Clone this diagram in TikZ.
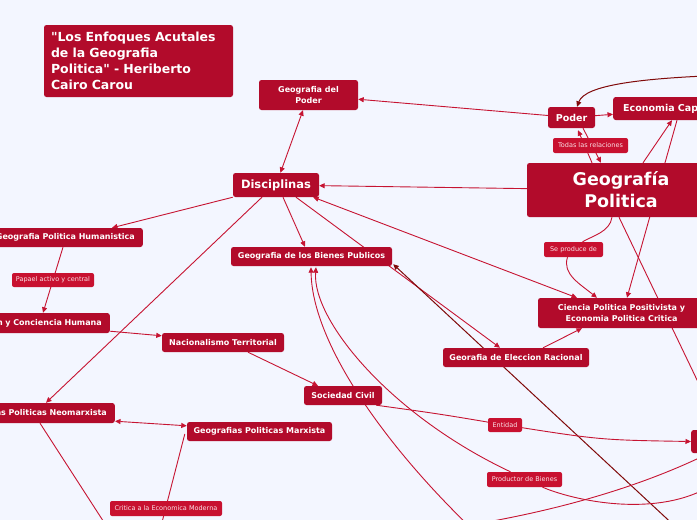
\documentclass[tikz,border=0pt]{standalone}
\usepackage{fontspec}
\setmainfont{DejaVu Sans}[Ligatures=TeXOff]
\usetikzlibrary{arrows.meta,calc}
\definecolor{bgc}{RGB}{243,246,255}
\definecolor{nodered}{RGB}{178,11,43}
\definecolor{labred}{RGB}{200,17,48}
\definecolor{linered}{RGB}{198,20,50}
\definecolor{darkline}{RGB}{128,10,10}
\definecolor{labtext}{RGB}{250,225,230}
\pgfdeclarelayer{back}
\pgfdeclarelayer{bg}
\pgfsetlayers{back,bg,main}
\begin{document}
\begin{tikzpicture}[x=1pt,y=-1pt,
 box/.style={fill=nodered, rounded corners=2.5pt, text=white, inner sep=0pt, align=center, font=\bfseries\fontsize{8}{10.5}\selectfont},
 lab/.style={fill=labred, rounded corners=2pt, text=labtext, inner sep=0pt, font=\fontsize{6.5}{7.5}\selectfont},
 link/.style={draw=linered, line width=0.9pt},
 arr/.style={link, -{Triangle[length=5.5pt,width=5pt]}},
 darr/.style={link, {Triangle[length=5.5pt,width=5pt]}-{Triangle[length=5.5pt,width=5pt]}},
 darkarr/.style={draw=darkline, line width=1pt, -{Triangle[length=5.5pt,width=5pt]}},
]
\begin{pgfonlayer}{back}
\fill[bgc] (0,0) rectangle (697,520);
\end{pgfonlayer}
\useasboundingbox (0,0) rectangle (697,520);

% nodes
\node[box, minimum width=189pt, minimum height=72pt, text width=175pt, align=left, font=\bfseries\fontsize{12.5}{16}\selectfont] (title) at (138.5,61) {"Los Enfoques Acutales\\de la Geografia\\Politica" - Heriberto\\Cairo Carou};
\node[box, minimum width=99pt, minimum height=30pt, font=\bfseries\fontsize{8}{11}\selectfont] (gpoder) at (308.5,95) {Geografia del\\Poder};
\node[box, minimum width=86pt, minimum height=24pt, font=\bfseries\fontsize{11.5}{14}\selectfont] (disc) at (276,185) {Disciplinas};
\node[box, minimum width=47pt, minimum height=21pt, font=\bfseries\fontsize{9.5}{12}\selectfont] (poder) at (571.5,117.5) {Poder};
\node[box, anchor=west, minimum height=23pt, text width=130pt, align=left, inner xsep=10pt, font=\bfseries\fontsize{9.5}{12}\selectfont] (econ) at (613,108.5) {Economia Cap};
\node[box, minimum width=188pt, minimum height=54pt, font=\bfseries\fontsize{17.5}{22}\selectfont] (geo) at (621,190) {Geografía\\Politica};
\node[lab, minimum width=75pt, minimum height=15pt] (todas) at (590.5,145.5) {Todas las relaciones};
\node[box, anchor=east, minimum height=19pt, text width=160pt, align=right, inner xsep=8pt] (human) at (143,237.5) {Geografia Politica Humanistica};
\node[lab, minimum width=82pt, minimum height=14pt] (papael) at (53,280) {Papael activo y central};
\node[box, anchor=east, minimum height=20pt, text width=130pt, align=right, inner xsep=8pt] (conc) at (110,323) {n y Conciencia Humana};
\node[box, minimum width=122pt, minimum height=19pt] (nac) at (223,342.5) {Nacionalismo Territorial};
\node[box, minimum width=161pt, minimum height=19pt] (bienes) at (311.5,256.5) {Geografia de los Bienes Publicos};
\node[box, minimum width=167pt, minimum height=30pt] (ciencia) at (621.5,313) {Ciencia Politica Positivista y\\Economia Politica Critica};
\node[box, minimum width=146pt, minimum height=19pt] (elec) at (516,357.5) {Georafia de Eleccion Racional};
\node[box, minimum width=78pt, minimum height=19pt] (soc) at (343,395.5) {Sociedad Civil};
\node[box, anchor=east, minimum height=20pt, text width=130pt, align=right, inner xsep=8pt] (neo) at (115,413) {as Politicas Neomarxista};
\node[box, minimum width=145pt, minimum height=19pt] (marx) at (259.5,431.5) {Geografias Politicas Marxista};
\node[lab, minimum width=112pt, minimum height=15pt] (critica) at (166,508.5) {Critica a la Economica Moderna};
\node[lab, minimum width=34pt, minimum height=14pt] (entidad) at (505,425) {Entidad};
\node[lab, minimum width=75pt, minimum height=15pt] (productor) at (524.5,479.5) {Productor de Bienes};
\node[lab, minimum width=59pt, minimum height=15pt] (seprod) at (573.5,249.5) {Se produce de};
\node[box, anchor=west, minimum width=45pt, minimum height=23pt] (rnode) at (691,441.5) {};

% connectors
\begin{pgfonlayer}{bg}
\draw[arr] (poder) -- (gpoder);
\draw[darr] (disc) -- (gpoder);
\draw[arr] (geo) -- (disc);
\draw[arr] (poder) -- (econ);
\coordinate (c1) at (730,75);
\draw[darkarr] (c1) .. controls (640,78) and (585,85) .. ($(poder.north)+(5.5,0)$);
\draw[arr] ($(geo.north)+(-29,0)$) -- ($(poder.south)+(6.5,2)$);
\draw[arr] ($(poder.south)+(11.5,0)$) -- ($(geo.north)+(-20,0)$);
\draw[arr] ($(geo.north)+(22,0)$) -- ($(econ.south west)+(59,0)$);
\draw[arr] ($(econ.south west)+(64,0)$) -- ($(ciencia.north)+(5.5,0)$);
\coordinate (c2) at (722,432);
\draw[link] ($(geo.south)+(-2,0)$) -- (c2);
\draw[link] ($(geo.south)+(-9,0)$) .. controls (610,232) and (592,236) .. ($(seprod.north)+(9,0)$);
\draw[arr] ($(seprod.south)+(-6,0)$) .. controls (562,274) and (580,284) .. ($(ciencia.north)+(-24.5,0)$);
\draw[darr] ($(disc.south east)+(-6,0)$) -- ($(ciencia.north)+(-44.5,0)$);
\draw[arr] ($(disc.south)+(7,0)$) -- ($(bienes.north)+(-6.5,0)$);
\draw[arr] ($(disc.south)+(20,0)$) -- ($(elec.north)+(-16,0)$);
\coordinate (c3) at (679,530);
\draw[darkarr] (c3) -- ($(bienes.south east)+(1,-2)$);
\draw[arr] ($(elec.north)+(27,0)$) -- ($(ciencia.south)+(-39.5,0)$);
\draw[arr] (disc.south west) -- ($(human.north east)+(-31,0)$);
\draw[arr] ($(disc.south)+(-14,0)$) -- ($(neo.north east)+(-69,0)$);
\draw[arr] ($(human.south east)+(-80,0)$) -- ($(conc.north east)+(-67,0)$);
\draw[arr] ($(conc.south east)+(0,-2)$) -- ($(nac.north west)+(0,3)$);
\draw[arr] ($(nac.south)+(25,0)$) -- ($(soc.north)+(-25,0)$);
\draw[darr] ($(neo.south east)+(0,-2)$) -- ($(marx.north west)+(0,4)$);
\coordinate (c4) at (160,530);
\draw[link] ($(marx.west)+(-2,2.5)$) -- (c4);
\coordinate (c5) at (109,530);
\draw[link] ($(neo.south east)+(-75,0)$) -- (c5);
\draw[link] ($(soc.south east)+(-6,0)$) .. controls (440,414) .. (entidad.center);
\draw[arr] (entidad.center) .. controls (600,440) .. (rnode.west);
\coordinate (c6) at (470,527);
\draw[arr] (c6) .. controls (380,440) and (312,340) .. ($(bienes.south)+(-0.5,1)$);
\draw[arr] ($(productor.north)+(-14,0)$) .. controls (390,415) and (312,320) .. ($(bienes.south)+(4.5,1)$);
\coordinate (c7) at (722,478);
\draw[link] ($(productor.south)+(18,0)$) .. controls (580,503) and (670,520) .. (c7);
\coordinate (c8) at (470,525);
\coordinate (c9) at (725,445);
\draw[link] (c8) .. controls (560,510) and (650,485) .. (c9);
\end{pgfonlayer}
\end{tikzpicture}
\end{document}
